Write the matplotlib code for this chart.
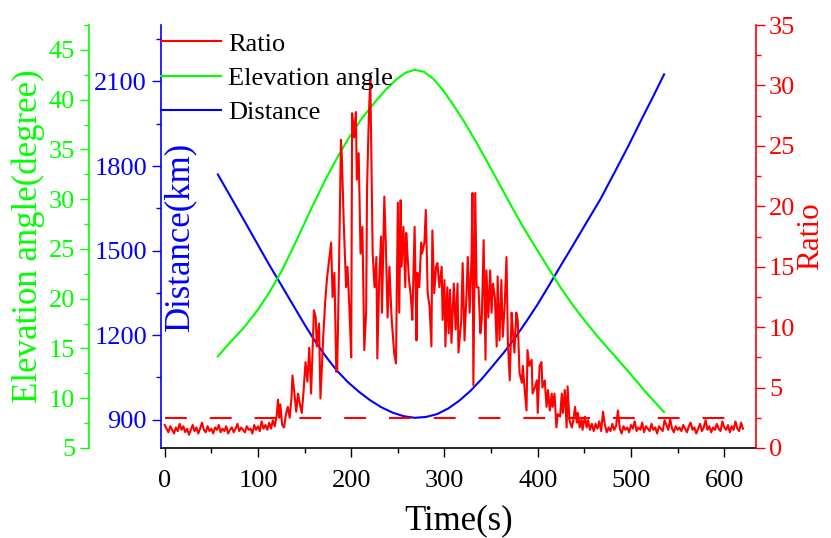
import matplotlib.pyplot as plt
from matplotlib.ticker import MultipleLocator

plt.rcParams['font.family'] = ['Liberation Serif', 'DejaVu Serif']

# ratio, quiet part before the pass (every 2 s from 0 to 118 s)
quiet_start_t = list(range(0, 120, 2))
quiet_start_v = [1.9, 1.6, 1.3, 1.8, 1.5, 1.2, 1.7, 1.4, 2.0, 1.5,
                 1.8, 1.3, 1.6, 1.1, 1.5, 1.9, 1.4, 1.7, 1.2, 1.6,
                 2.1, 1.5, 1.3, 1.8, 1.4, 1.6, 1.2, 1.7, 1.5, 1.9,
                 1.3, 1.6, 1.4, 1.8, 1.2, 1.5, 1.7, 1.3, 1.6, 2.0,
                 1.4, 1.7, 1.5, 1.3, 1.8, 1.5, 1.6, 1.2, 1.9, 1.5,
                 1.8, 1.4, 2.2, 1.6, 1.9, 1.5, 2.1, 1.6, 2.3, 1.8]

# ratio during the burst
burst_t = [120, 121.5, 123, 124, 126, 128, 130, 132, 134, 136, 137, 139, 141, 143, 145, 147, 149, 151, 153, 155,
           157, 160, 162, 163, 165.5, 167, 170, 172, 174, 176, 178.5, 180, 182, 184, 185, 187, 189, 190, 192, 194.5,
           196, 198, 200, 201, 203, 205, 206, 208, 210, 212, 214, 216, 217, 219, 220.5, 222, 223, 225, 227, 228,
           230, 232, 233, 235.5, 237, 239, 241, 243, 244, 246, 248, 250, 251.5, 253, 254, 256, 258, 259, 260, 262,
           264, 265.5, 268, 270, 271, 273, 275, 276, 278.5, 280, 282, 284, 286, 287, 289, 291, 292.5, 294.5, 297, 298,
           300, 301, 303, 304.5, 306, 307.5, 310, 312, 314, 315, 318, 319.5, 321.5, 323.5, 325, 327, 329, 330, 331, 333,
           334.5, 336.5, 338.5, 340, 342, 344, 345, 347, 349, 350.5, 352, 354, 356, 357, 359, 361, 362.5, 364.5, 366.5, 368,
           370, 372, 373, 375, 377, 378.5, 380.5, 383, 384, 386, 388, 389, 391, 393.5, 394.5, 397, 399, 400, 402, 404,
           405, 407.5, 409.5, 411, 413, 415, 416, 418, 420, 421.5, 424, 425.8, 427, 429, 431, 432, 434, 436.5, 438, 440,
           442, 443, 445, 447, 448, 450.5, 452.5, 454, 456, 458, 460, 462, 464, 466, 468, 470, 472, 474]
burst_v = [2.6, 4.0, 2.5, 3.6, 1.9, 1.7, 2.8, 3.4, 2.5, 4.2, 6.0, 4.6, 3.0, 4.5, 3.6, 2.9, 4.8, 7.1, 5.5, 8.3,
           4.5, 11.4, 10.8, 8.4, 10.3, 4.1, 9.2, 12.0, 14.0, 15.3, 17.0, 12.5, 14.5, 6.3, 6.5, 15.3, 25.5, 24.0, 18.6, 13.3,
           15.0, 11.7, 7.5, 27.7, 25.7, 27.8, 22.2, 24.4, 16.1, 18.3, 8.1, 11.2, 21.6, 27.7, 30.5, 21.6, 16.1, 13.3, 15.8, 7.4,
           13.9, 17.5, 11.2, 20.8, 17.2, 10.8, 15.0, 11.2, 10.0, 7.9, 7.0, 20.3, 11.2, 20.5, 15.0, 18.3, 13.3, 17.8, 16.4, 13.9,
           12.5, 10.6, 18.3, 8.9, 14.5, 13.3, 17.0, 16.1, 17.0, 19.7, 12.8, 11.7, 8.4, 18.0, 12.8, 15.0, 15.3, 13.3, 15.0, 10.6,
           13.9, 8.4, 13.3, 9.5, 13.1, 8.7, 13.6, 9.8, 13.6, 7.9, 10.6, 15.3, 8.9, 12.5, 15.8, 11.2, 15.8, 21.1, 5.2, 21.1,
           13.3, 13.3, 9.5, 10.6, 17.2, 7.3, 14.7, 10.8, 14.7, 11.2, 13.6, 12.5, 8.4, 14.2, 8.9, 13.9, 9.2, 11.7, 15.8, 8.7,
           5.6, 11.2, 10.0, 7.9, 11.2, 10.6, 6.2, 5.4, 6.8, 4.8, 3.1, 8.1, 6.8, 7.3, 4.5, 5.0, 5.6, 2.9, 6.8, 7.1,
           5.0, 5.6, 3.4, 4.8, 3.1, 4.5, 3.4, 4.5, 1.7, 2.8, 2.6, 4.5, 2.9, 4.8, 1.7, 5.1, 2.3, 1.7, 2.2, 3.4,
           2.1, 2.9, 1.7, 2.4, 1.5, 2.6, 1.7, 2.3, 1.5, 2.0, 1.4, 2.0, 1.6, 2.2, 1.4, 3.0, 1.9, 1.3]

# ratio, quiet part after the pass (every 2 s from 476 to 620 s)
quiet_end_t = list(range(476, 621, 2))
quiet_end_v = [1.7, 1.4, 2.0, 1.5, 1.8, 3.1, 1.6, 1.2, 1.8, 1.5,
               1.7, 1.3, 1.9, 1.6, 2.2, 1.4, 1.7, 1.5, 2.1, 1.3,
               1.8, 1.6, 1.4, 2.0, 1.5, 1.7, 1.2, 1.8, 1.6, 1.4,
               2.3, 1.9, 1.5, 2.4, 1.6, 1.3, 1.8, 1.5, 1.7, 1.4,
               1.9, 1.6, 1.3, 1.8, 2.1, 1.5, 1.7, 1.2, 1.6, 2.0,
               1.4, 1.7, 2.3, 1.5, 1.8, 1.3, 1.7, 1.5, 2.0, 1.6,
               1.4, 2.2, 1.7, 1.5, 1.9, 1.3, 1.8, 1.5, 2.2, 1.6,
               1.4, 2.1, 1.6]

ratio_t = quiet_start_t + burst_t + quiet_end_t
ratio_v = quiet_start_v + burst_v + quiet_end_v

threshold_t = [0, 620]
threshold_v = [2.5, 2.5]

# elevation angle (degree)
elev_t = [57, 70, 85, 100, 112, 125, 137, 147, 160, 172, 184, 197, 212, 225, 236, 248, 258, 268, 278,
          288, 298, 310, 321, 333, 345, 356, 370, 385, 400, 412, 424, 438, 452, 467, 482, 498, 515, 535.5]
elev_v = [14.2, 15.6, 17.1, 18.9, 20.6, 22.7, 25.0, 27.0, 29.6, 31.9, 34.0, 36.1, 38.2, 39.7, 40.9, 42.0, 42.7, 43.0, 42.8,
          42.1, 41.0, 39.4, 37.8, 35.9, 33.9, 32.0, 29.6, 27.1, 24.8, 23.0, 21.2, 19.3, 17.6, 15.9, 14.3, 12.6, 10.7, 8.6]

# distance (km)
dist_t = [57, 70, 85, 100, 112, 125, 138, 150, 160, 172, 184, 196, 208, 220, 232, 244, 256, 268, 280,
          292, 304, 316, 328, 340, 352, 364, 376, 388, 400, 412, 424, 438, 452, 467, 482, 497, 512, 524, 535.5]
dist_v = [1770, 1695, 1608, 1520, 1450, 1378, 1305, 1238, 1185, 1128, 1077, 1035, 1000, 970, 945, 926, 913, 907, 910,
          920, 940, 968, 1003, 1045, 1092, 1140, 1192, 1250, 1310, 1376, 1443, 1520, 1598, 1681, 1775, 1870, 1970, 2048, 2125]

RED = '#ff0000'
GREEN = '#00ff00'
BLUE = '#0000ff'
tick_size = 19
label_size = 25

fig = plt.figure(figsize=(8.31, 5.38), dpi=100)
ax = fig.add_axes([0.1937, 0.1673, 0.7160, 0.7862])
ax_g = ax.twinx()
ax_r = ax.twinx()

# distance on the host axes (blue, left)
l_b, = ax.plot(dist_t, dist_v, color=BLUE, lw=1.5, label='Distance')
ax.set_xlim(-4, 634)
ax.set_ylim(800, 2300)
ax.xaxis.set_major_locator(MultipleLocator(100))
ax.xaxis.set_minor_locator(MultipleLocator(50))
ax.yaxis.set_major_locator(MultipleLocator(300))
ax.yaxis.set_minor_locator(MultipleLocator(150))
ax.spines['top'].set_visible(False)
ax.spines['right'].set_visible(False)
ax.spines['left'].set_color(BLUE)
ax.spines['left'].set_linewidth(1.2)
ax.spines['bottom'].set_linewidth(1.2)
ax.tick_params(axis='y', which='both', colors=BLUE, labelsize=tick_size)
ax.tick_params(axis='x', which='both', labelsize=tick_size, pad=9)
ax.tick_params(which='major', length=6.5, width=1)
ax.tick_params(which='minor', length=3.6, width=1)
ax.set_xlabel('Time(s)', fontsize=label_size, labelpad=9)
ax.set_ylabel('Distance(km)', fontsize=label_size, color=BLUE)
ax.yaxis.set_label_coords(0.059, 0.5)

# elevation angle (green, outer left)
l_g, = ax_g.plot(elev_t, elev_v, color=GREEN, lw=1.5, label='Elevation angle')
ax_g.set_ylim(5, 47.5)
ax_g.yaxis.set_major_locator(MultipleLocator(5))
ax_g.yaxis.set_minor_locator(MultipleLocator(2.5))
for s in ['top', 'right', 'bottom']:
    ax_g.spines[s].set_visible(False)
ax_g.spines['left'].set_visible(True)
ax_g.spines['left'].set_position(('axes', -0.121))
ax_g.spines['left'].set_color(GREEN)
ax_g.spines['left'].set_linewidth(1.2)
ax_g.yaxis.set_ticks_position('left')
ax_g.yaxis.set_label_position('left')
ax_g.tick_params(axis='y', which='both', colors=GREEN, labelsize=tick_size)
ax_g.tick_params(which='major', length=6.5, width=1)
ax_g.tick_params(which='minor', length=3.6, width=1)
ax_g.set_ylabel('Elevation angle(degree)', fontsize=label_size, color=GREEN)
ax_g.yaxis.set_label_coords(-0.195, 0.5)

# ratio (red, right)
l_r, = ax_r.plot(ratio_t, ratio_v, color=RED, lw=1.5, label='Ratio')
ax_r.plot(threshold_t, threshold_v, color=RED, lw=1.5, dashes=(10.5, 11))
ax_r.set_ylim(0, 35)
ax_r.yaxis.set_major_locator(MultipleLocator(5))
ax_r.yaxis.set_minor_locator(MultipleLocator(2.5))
for s in ['top', 'left', 'bottom']:
    ax_r.spines[s].set_visible(False)
ax_r.spines['right'].set_color(RED)
ax_r.spines['right'].set_linewidth(1.2)
ax_r.tick_params(axis='y', which='both', colors=RED, labelsize=tick_size, pad=3)
ax_r.tick_params(which='major', length=6.5, width=1)
ax_r.tick_params(which='minor', length=3.6, width=1)
ax_r.set_ylabel('Ratio', fontsize=22.5, color=RED)
ax_r.yaxis.set_label_coords(1.0672, 0.5)

ax_r.legend(handles=[l_r, l_g, l_b], loc='upper left', bbox_to_anchor=(0, 0.983),
            frameon=False, fontsize=tick_size, borderaxespad=0, borderpad=0,
            handlelength=2.27, handletextpad=0.27, labelspacing=0.41)

fig.savefig('out.png', dpi=100)
